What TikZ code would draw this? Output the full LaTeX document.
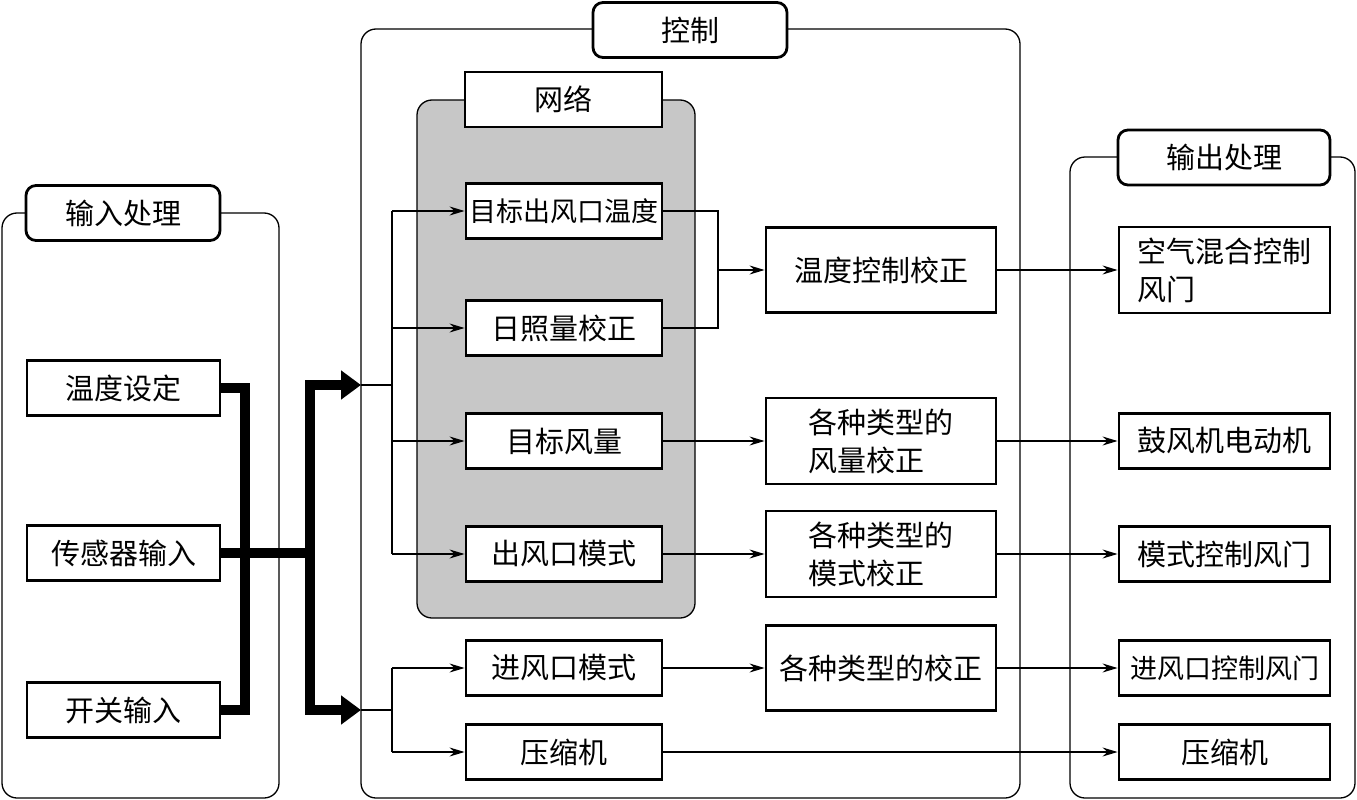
\documentclass[tikz,border=0pt]{standalone}
\usepackage{fontspec}
\setmainfont{Noto Sans CJK SC}
\usetikzlibrary{arrows.meta}
\tikzset{
  panel/.style={draw, line width=1.3pt, rounded corners=15pt},
  netpanel/.style={draw, line width=1.3pt, rounded corners=15pt, fill=black!22},
  titlebox/.style={draw, line width=2.8pt, rounded corners=10pt, fill=white, inner sep=0pt, minimum width=194pt, minimum height=55pt, font=\fsz},
  ntitle/.style={draw, line width=2.8pt, fill=white, inner sep=0pt, minimum width=197pt, minimum height=55pt, font=\fsz},
  box/.style={draw, line width=2.9pt, fill=white, inner sep=0pt, minimum height=55pt, font=\fsz, align=left},
  narrow/.style={font=\fsn},
  thk/.style={line width=10pt, line join=miter},
  thn/.style={line width=1.3pt},
  arr/.style={thn, -{Stealth[length=15pt, width=9pt, inset=5pt]}},
  bigarr/.style={thk, -{Triangle[length=20pt, width=28pt]}}
}
\newcommand{\fsz}{\fontsize{29pt}{38pt}\selectfont}
\newcommand{\fsn}{\fontsize{27pt}{38pt}\selectfont}
\begin{document}
\begin{tikzpicture}[x=1pt, y=-1pt]
\useasboundingbox (0,0) rectangle (1357,800);
\fill[white] (0,0) rectangle (1357,800);
% panels
\draw[panel] (2,213) rectangle (279,798);
\draw[panel] (361,29) rectangle (1020,798);
\draw[panel] (1070,157) rectangle (1355,798);
\draw[netpanel] (417,100) rectangle (695,618);
% titles
\node[titlebox] (tin) at (123,213) {输入处理};
\node[titlebox] (tctl) at (690,30) {控制};
\node[ntitle] (tnet) at (563.5,99.5) {网络};
\node[titlebox, minimum width=212pt] (tout) at (1224,157.5) {输出处理};
% input boxes
\node[box, minimum width=193pt] (i1) at (123.5,388) {温度设定};
\node[box, minimum width=193pt] (i2) at (123.5,553) {传感器输入};
\node[box, minimum width=193pt] (i3) at (123.5,710) {开关输入};
% network boxes
\node[box, narrow, minimum width=196pt] (n1) at (564,211) {目标出风口温度};
\node[box, minimum width=196pt] (n2) at (564,328) {日照量校正};
\node[box, minimum width=196pt] (n3) at (564,441) {目标风量};
\node[box, minimum width=196pt] (n4) at (564,554) {出风口模式};
\node[box, minimum width=196pt] (n5) at (564,668) {进风口模式};
\node[box, minimum width=196pt] (n6) at (564,752) {压缩机};
% middle boxes
\node[box, minimum width=230pt, minimum height=85pt] (m1) at (881,270) {温度控制校正};
\node[box, minimum width=230pt, minimum height=86pt] (m2) at (881,441) {各种类型的\\风量校正};
\node[box, minimum width=230pt, minimum height=86pt] (m3) at (881,554) {各种类型的\\模式校正};
\node[box, minimum width=230pt, minimum height=85pt] (m4) at (881,668) {各种类型的校正};
% output boxes
\node[box, minimum width=211pt, minimum height=86pt] (o1) at (1224.5,270) {空气混合控制\\风门};
\node[box, minimum width=211pt] (o2) at (1224.5,441) {鼓风机电动机};
\node[box, minimum width=211pt] (o3) at (1224.5,554) {模式控制风门};
\node[box, narrow, minimum width=211pt] (o4) at (1224.5,668) {进风口控制风门};
\node[box, minimum width=211pt] (o5) at (1224.5,752) {压缩机};
% thick connectors
\coordinate (jl) at (245,0);
\coordinate (jr) at (310,0);
\coordinate (aT) at (361,385);
\coordinate (aB) at (361,710);
\draw[thk] (i1.east) -| (jl |- i3.east) -- (i3.east);
\draw[thk] (i2.east) -- (jr |- i2.east);
\draw[bigarr] (jr |- i2.east) |- (aT);
\draw[bigarr] (jr |- i2.east) |- (aB);
% thin branches
\coordinate (bx) at (392,0);
\draw[thn] (aT) -- (bx |- aT);
\draw[thn] (bx |- n1.west) -- (bx |- n4.west);
\foreach \n in {n1,n2,n3,n4} \draw[arr] (bx |- \n.west) -- (\n.west);
\draw[thn] (aB) -- (bx |- aB);
\draw[thn] (bx |- n5.west) -- (bx |- n6.west);
\foreach \n in {n5,n6} \draw[arr] (bx |- \n.west) -- (\n.west);
% bracket
\coordinate (br) at (718,0);
\draw[thn] (n1.east) -- (br |- n1.east) -- (br |- n2.east) -- (n2.east);
\draw[arr] (br |- m1.west) -- (m1.west);
% straight arrows
\draw[arr] (n3.east) -- (m2.west);
\draw[arr] (n4.east) -- (m3.west);
\draw[arr] (n5.east) -- (m4.west);
\draw[arr] (n6.east) -- (o5.west);
\draw[arr] (m1.east) -- (o1.west);
\draw[arr] (m2.east) -- (o2.west);
\draw[arr] (m3.east) -- (o3.west);
\draw[arr] (m4.east) -- (o4.west);
\end{tikzpicture}
\end{document}
